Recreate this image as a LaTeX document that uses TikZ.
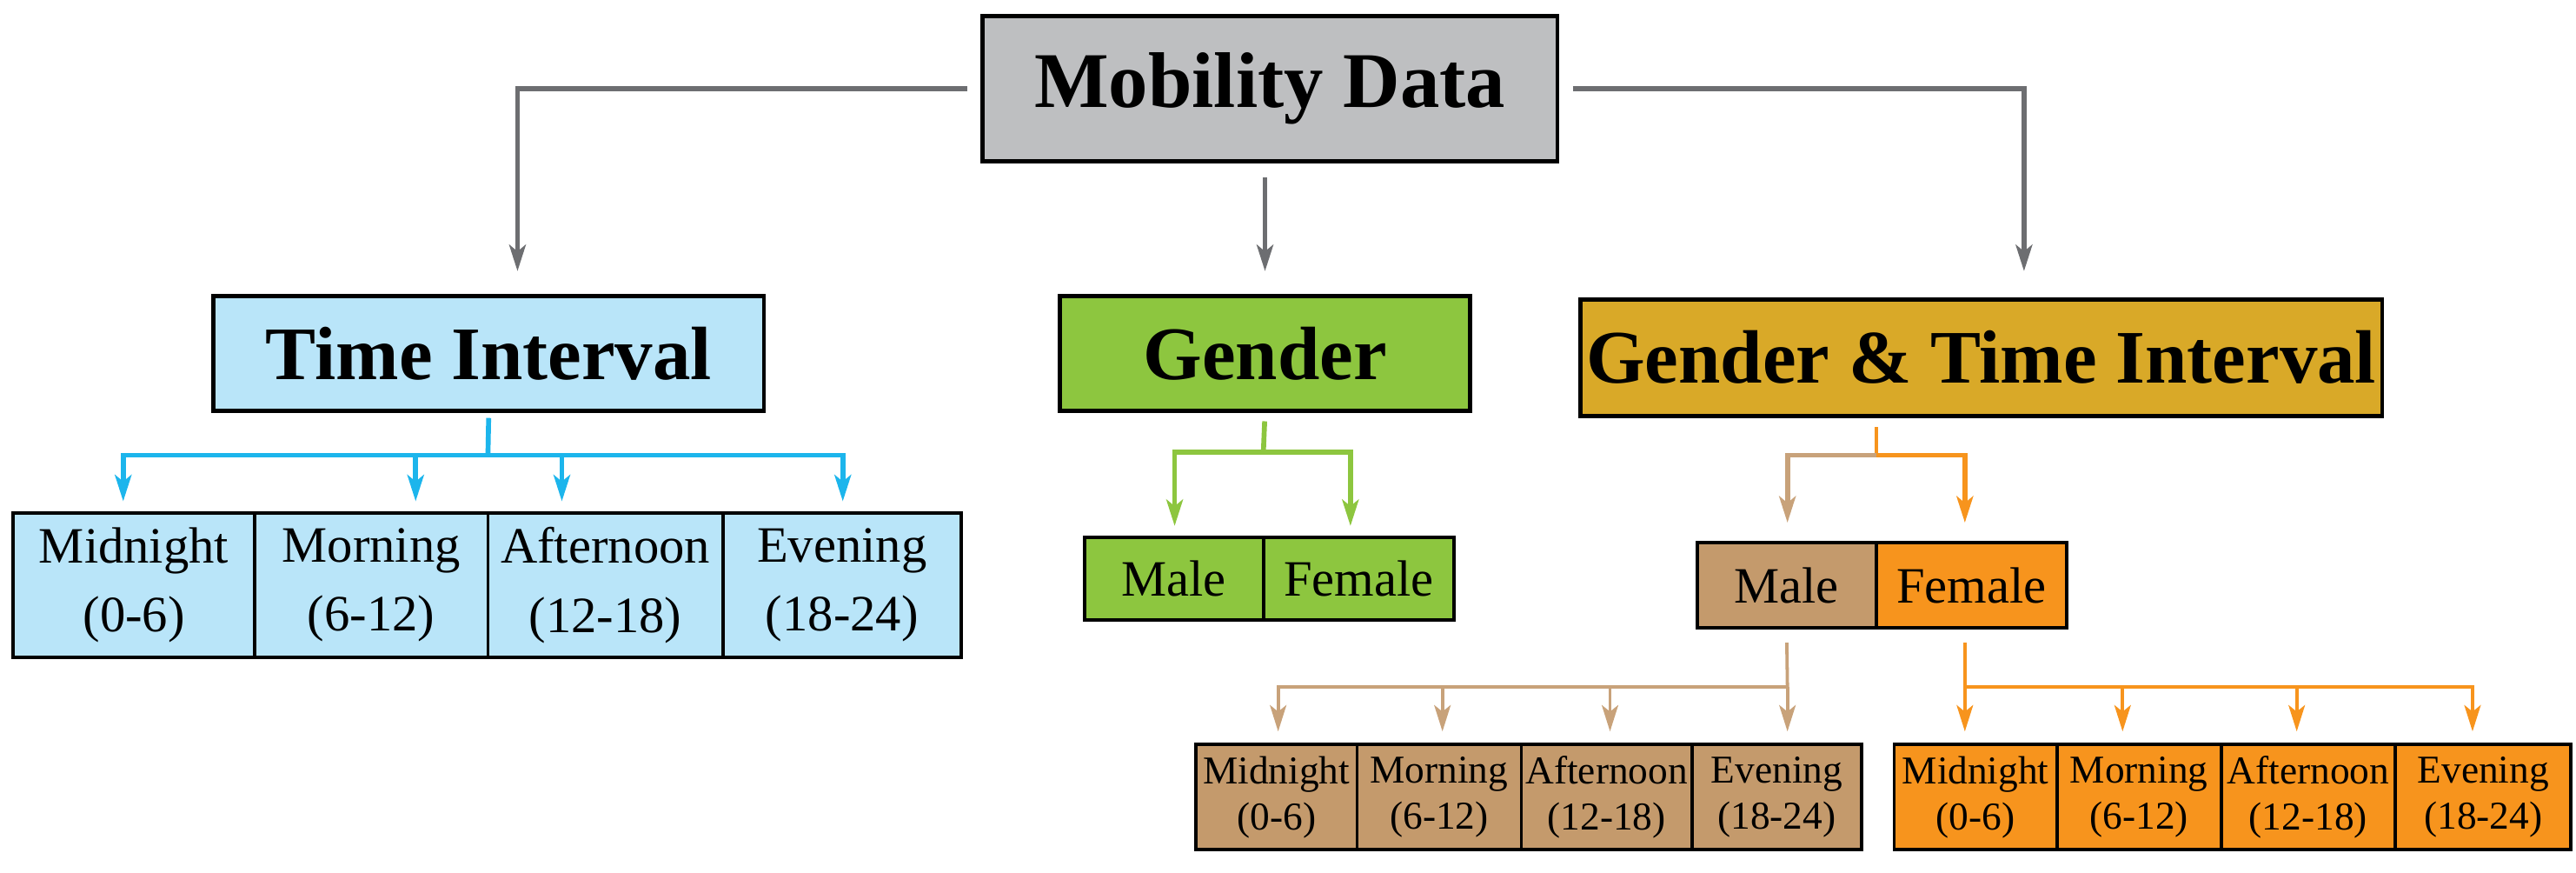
\documentclass[tikz,border=0pt]{standalone}
\usepackage{fontspec}
\setmainfont{Liberation Serif}
\usetikzlibrary{arrows.meta}
\definecolor{cgrey}{HTML}{BEBFC1}
\definecolor{cblue}{HTML}{B9E5F9}
\definecolor{cgreen}{HTML}{8DC63F}
\definecolor{cgold}{HTML}{D9A928}
\definecolor{ctan}{HTML}{C49A6C}
\definecolor{corange}{HTML}{F7941D}
\definecolor{agrey}{HTML}{6D6E71}
\definecolor{ablue}{HTML}{1CB5EC}
\definecolor{atan}{HTML}{C8A27A}
\tikzset{
 bigbox/.style={draw=black,line width=1.3pt,inner sep=0pt,font=\fontsize{23}{26}\selectfont\bfseries},
 cellA/.style={draw=black,line width=1pt,inner sep=0pt,align=center,font=\fontsize{15.5}{21}\selectfont},
 cellB/.style={draw=black,line width=1pt,inner sep=0pt,align=center,font=\fontsize{12}{14}\selectfont},
 arr/.style={line width=#1,-{Stealth[length=8pt,width=5pt,inset=2pt]}},
}
\begin{document}
\begin{tikzpicture}[x=0.5pt,y=-0.5pt]
\useasboundingbox (0,0) rectangle (1568,531);
% big boxes
\node[bigbox,fill=cgrey,minimum width=175pt,minimum height=44pt,font=\fontsize{24}{26}\selectfont\bfseries] (mob) at (773,54) {Mobility Data};
\node[bigbox,fill=cblue,minimum width=167.5pt,minimum height=35pt] (ti) at (297.5,215) {Time Interval};
\node[bigbox,fill=cgreen,minimum width=125pt,minimum height=35pt] (ge) at (770,215) {Gender};
\node[bigbox,fill=cgold,minimum width=244pt,minimum height=35.5pt] (gt) at (1206,217.5) {Gender \& Time Interval};
% time interval cells
\node[cellA,fill=cblue,minimum width=73.5pt,minimum height=44pt] (t1) at (81.5,356) {Midnight\\(0-6)};
\node[cellA,fill=cblue,minimum width=71pt,minimum height=44pt] (t2) at (226,356) {Morning\\(6-12)};
\node[cellA,fill=cblue,minimum width=71.5pt,minimum height=44pt] (t3) at (368.5,356) {Afternoon\\(12-18)};
\node[cellA,fill=cblue,minimum width=72.5pt,minimum height=44pt] (t4) at (512.5,356) {Evening\\(18-24)};
% gender cells
\node[cellA,fill=cgreen,minimum width=54.5pt,minimum height=25pt] (g1) at (714.5,352) {Male};
\node[cellA,fill=cgreen,minimum width=58pt,minimum height=25pt] (g2) at (827,352) {Female};
% gender & time male/female
\node[cellA,fill=ctan,minimum width=54.5pt,minimum height=26pt] (m) at (1087.5,356) {Male};
\node[cellA,fill=corange,minimum width=58pt,minimum height=26pt] (f) at (1200,356) {Female};
% male cells
\node[cellB,fill=ctan,minimum width=49pt,minimum height=32pt] (m1) at (777,485) {Midnight\\(0-6)};
\node[cellB,fill=ctan,minimum width=50pt,minimum height=32pt] (m2) at (876,485) {Morning\\(6-12)};
\node[cellB,fill=ctan,minimum width=52pt,minimum height=32pt] (m3) at (978,485) {Afternoon\\(12-18)};
\node[cellB,fill=ctan,minimum width=51.5pt,minimum height=32pt] (m4) at (1081.5,485) {Evening\\(18-24)};
% female cells
\node[cellB,fill=corange,minimum width=49.5pt,minimum height=32pt] (f1) at (1202.5,485) {Midnight\\(0-6)};
\node[cellB,fill=corange,minimum width=50pt,minimum height=32pt] (f2) at (1302,485) {Morning\\(6-12)};
\node[cellB,fill=corange,minimum width=53pt,minimum height=32pt] (f3) at (1405,485) {Afternoon\\(12-18)};
\node[cellB,fill=corange,minimum width=53.5pt,minimum height=32pt] (f4) at (1511.5,485) {Evening\\(18-24)};
% top connectors
\coordinate (pA) at (315,165);
\coordinate (pB0) at (770,108);
\coordinate (pB) at (770,165);
\coordinate (pC) at (1232,165);
\draw[arr=1.5pt,agrey,shorten <=4pt] (mob.west) -| (pA);
\draw[arr=1.5pt,agrey] (pB0) -- (pB);
\draw[arr=1.5pt,agrey,shorten <=4pt] (mob.east) -| (pC);
% time interval fork
\coordinate (tj) at (297,277);
\draw[ablue,line width=1.5pt,shorten <=1.5pt] (ti.south) -- (tj);
\foreach \x/\n in {75/1,253/2,342/3,513/4}{
  \coordinate (ta\n) at (\x,305);
  \draw[arr=1.5pt,ablue] (tj) -| (ta\n);
}
% gender fork
\coordinate (gj) at (769,275);
\draw[cgreen,line width=1.5pt,shorten <=2.5pt] (ge.south) -- (gj);
\coordinate (ga1) at (715,320);
\coordinate (ga2) at (822,320);
\draw[arr=1.5pt,cgreen] (gj) -| (ga1);
\draw[arr=1.5pt,cgreen] (gj) -| (ga2);
% gender & time fork
\coordinate (gt0) at (1142,260);
\coordinate (gtj) at (1142,277);
\coordinate (gtm) at (1088,318);
\coordinate (gtf) at (1196,318);
\draw[corange,line width=1pt] (gt0) -- (gtj);
\draw[arr=1.5pt,atan] (gtj) -| (gtm);
\draw[arr=1.5pt,corange] (gtj) -| (gtf);
% male fork
\coordinate (mj) at (1088,418);
\draw[atan,line width=1pt,shorten <=4pt] (m.south) -- (mj);
\foreach \x/\n in {778/1,878/2,980/3,1088/4}{
  \coordinate (ma\n) at (\x,445);
  \draw[arr=1pt,atan] (mj) -| (ma\n);
}
% female fork
\coordinate (fj) at (1196,418);
\draw[corange,line width=1pt,shorten <=4pt] (f.south -| fj) -- (fj);
\foreach \x/\n in {1196/1,1292/2,1398/3,1505/4}{
  \coordinate (fa\n) at (\x,445);
  \draw[arr=1pt,corange] (fj) -| (fa\n);
}
\end{tikzpicture}
\end{document}
